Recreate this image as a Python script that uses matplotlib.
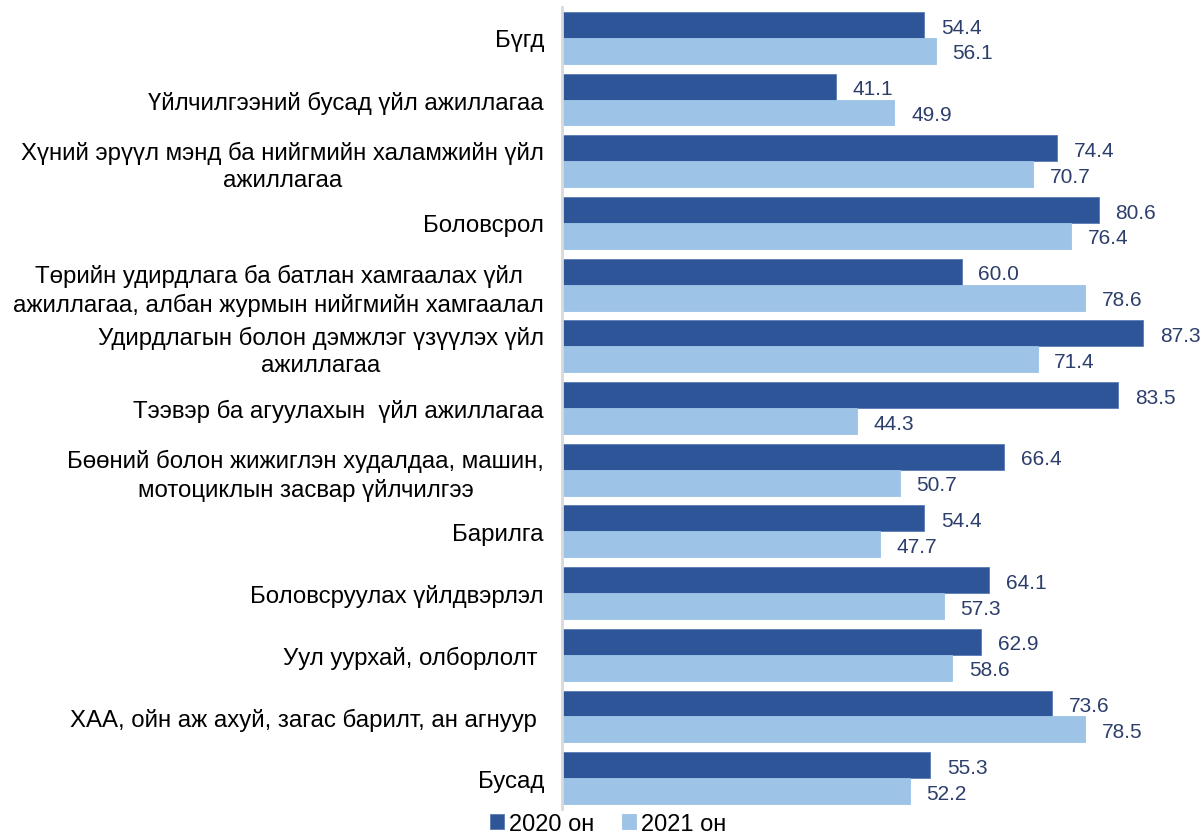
import matplotlib.pyplot as plt
import numpy as np

plt.rcParams['font.family'] = ['Liberation Sans', 'DejaVu Sans']

# Categories from top to bottom
categories = [
    "Бүгд",
    "Үйлчилгээний бусад үйл ажиллагаа",
    "Хүний эрүүл мэнд ба нийгмийн халамжийн үйл\nажиллагаа",
    "Боловсрол",
    "Төрийн удирдлага ба батлан хамгаалах үйл\nажиллагаа, албан журмын нийгмийн хамгаалал",
    "Удирдлагын болон дэмжлэг үзүүлэх үйл\nажиллагаа",
    "Тээвэр ба агуулахын  үйл ажиллагаа",
    "Бөөний болон жижиглэн худалдаа, машин,\nмотоциклын засвар үйлчилгээ",
    "Барилга",
    "Боловсруулах үйлдвэрлэл",
    "Уул уурхай, олборлолт ",
    "ХАА, ойн аж ахуй, загас барилт, ан агнуур ",
    "Бусад",
]
vals_2020 = [54.4, 41.1, 74.4, 80.6, 60.0, 87.3, 83.5, 66.4, 54.4, 64.1, 62.9, 73.6, 55.3]
vals_2021 = [56.1, 49.9, 70.7, 76.4, 78.6, 71.4, 44.3, 50.7, 47.7, 57.3, 58.6, 78.5, 52.2]
series_names = ["2020 он", "2021 он"]

c2020 = "#2E5597"
c2021 = "#9DC3E6"
label_color = "#2C3E6B"

fig = plt.figure(figsize=(12.04, 8.37), dpi=100)
ax = fig.add_axes([0.4668, 0.0323, 0.5332, 0.9581])

y = np.arange(len(categories))
h = 0.42
b1 = ax.barh(y - h / 2, vals_2020, height=h, color=c2020, edgecolor="#5a7bb5",
             linewidth=0.6, label=series_names[0])
b2 = ax.barh(y + h / 2, vals_2021, height=h, color=c2021, edgecolor=c2021,
             linewidth=0.6, label=series_names[1])

# value labels just right of each bar
for bars, vals in ((b1, vals_2020), (b2, vals_2021)):
    for bar, v in zip(bars, vals):
        ax.annotate(f"{v:.1f}", (v, bar.get_y() + bar.get_height() / 2),
                    xytext=(12, -1.5), textcoords="offset points",
                    va="center", ha="left", fontsize=15, color=label_color)

ax.set_xlim(0, 96.4)
ax.set_ylim(len(categories) - 0.5, -0.5)
ax.set_yticks(y)
ax.set_yticklabels(categories, fontsize=17.3, multialignment="center", linespacing=1.3)
ax.tick_params(axis="y", length=0, pad=13)
ax.set_xticks([])
for s in ["top", "right", "bottom"]:
    ax.spines[s].set_visible(False)
ax.spines["left"].set_color("#d9d9d9")
ax.spines["left"].set_linewidth(2)

fig.legend(loc="center", bbox_to_anchor=(0.505, 0.014), ncol=2, frameon=False,
           fontsize=17, handlelength=0.6, handleheight=0.6, handletextpad=0.2,
           columnspacing=1.2, borderaxespad=0, borderpad=0.1)

fig.savefig("out.png", dpi=100)
